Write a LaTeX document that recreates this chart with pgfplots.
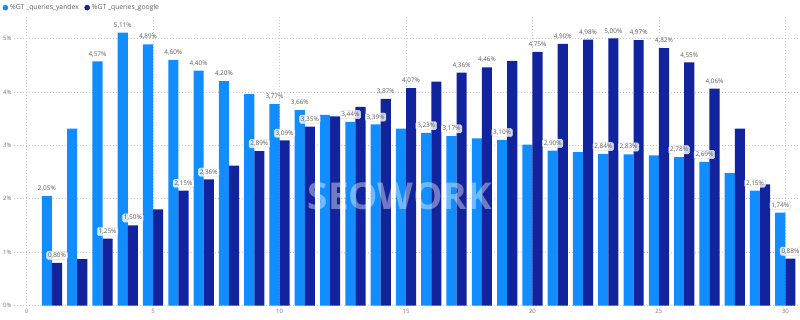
\documentclass[border=0pt]{standalone}
\usepackage{pgfplots}
\pgfplotsset{compat=1.18}
\usepackage{pgfplotstable}
\usepackage{fontspec}
\setmainfont{Open Sans}
\definecolor{yb}{HTML}{118DFF}
\definecolor{gb}{HTML}{12239E}
\definecolor{txt}{HTML}{605E5C}
\definecolor{tick}{HTML}{777777}
\definecolor{grd}{HTML}{C8C8C8}

\pgfplotstableread{
d y g
1 2.05 0.80
2 3.31 0.87
3 4.57 1.25
4 5.11 1.50
5 4.89 1.80
6 4.60 2.15
7 4.40 2.36
8 4.20 2.62
9 3.96 2.89
10 3.77 3.09
11 3.66 3.35
12 3.57 3.54
13 3.44 3.72
14 3.39 3.87
15 3.31 4.07
16 3.23 4.19
17 3.17 4.36
18 3.13 4.46
19 3.10 4.58
20 3.01 4.75
21 2.90 4.90
22 2.87 4.98
23 2.84 5.00
24 2.83 4.97
25 2.81 4.82
26 2.78 4.55
27 2.69 4.06
28 2.48 3.31
29 2.15 2.27
30 1.74 0.88
}\maindata

% yandex labels without box
\pgfplotstableread{
d v
1 2.05
3 4.57
4 5.11
5 4.89
6 4.60
7 4.40
8 4.20
10 3.77
11 3.66
}\ylabplain
% yandex labels with box
\pgfplotstableread{
d v
13 3.44
14 3.39
16 3.23
17 3.17
19 3.10
21 2.90
23 2.84
24 2.83
26 2.78
27 2.69
29 2.15
30 1.74
}\ylabbox
% google labels without box
\pgfplotstableread{
d v
14 3.87
15 4.07
17 4.36
18 4.46
20 4.75
21 4.90
22 4.98
23 5.00
24 4.97
25 4.82
26 4.55
27 4.06
}\glabplain
% google labels with box
\pgfplotstableread{
d v
1 0.80
3 1.25
4 1.50
6 2.15
7 2.36
9 2.89
10 3.09
11 3.35
30 0.88
}\glabbox

\pgfplotsset{
  lab/.style={forget plot, draw=none, mark=none, nodes near coords,
    point meta=y,
    nodes near coords={\pgfmathprintnumber[fixed,fixed zerofill,precision=2,use comma]{\pgfplotspointmeta}\%},
    every node near coord/.append style={font=\fontsize{6.4}{7}\selectfont, text=txt, anchor=south, inner sep=1.4pt, yshift=3pt}},
  labbox/.style={lab,
    every node near coord/.append style={fill=white, fill opacity=0.8, text opacity=1, draw=blue!8!black!12, draw opacity=1, line width=0.4pt, rounded corners=1.5pt}},
}

\begin{document}
\begin{tikzpicture}
\begin{axis}[
  scale only axis, width=784pt, height=288.4pt,
  xmin=-0.5, xmax=30.5, ymin=0, ymax=5.4,
  clip=false,
  axis line style={draw=none}, major tick length=0pt,
  xtick={0,5,...,30}, ytick={0,1,2,3,4,5},
  yticklabel={\pgfmathprintnumber{\tick}\%},
  /pgf/number format/assume math mode=true,
  xmajorgrids, ymajorgrids,
  grid style={grd, line width=0.6pt, dash pattern=on 0.7pt off 2.3pt},
  ticklabel style={font=\fontsize{6}{7}\selectfont, text=tick},
  xticklabel style={anchor=north, inner sep=0pt, yshift=-3.8pt},
  yticklabel style={anchor=east, inner sep=0pt, xshift=-2.3pt},
  legend columns=2,
  legend style={at={(rel axis cs:0,1)}, anchor=south west, xshift=-11.6pt, yshift=3.9pt,
    draw=none, fill=none, inner sep=0pt, font=\fontsize{6.8}{7.5}\selectfont, text=txt,
    /tikz/every even column/.append style={column sep=3.5pt}},
]
\coordinate (bl) at (rel axis cs:0,0);
\coordinate (tr) at (rel axis cs:1,1);

\addlegendimage{legend image code/.code={\fill[yb] (0pt,0pt) circle (2.6pt);}}
\addlegendentry{\%GT \_queries\_yandex}
\addlegendimage{legend image code/.code={\fill[gb] (0pt,0pt) circle (2.6pt);}}
\addlegendentry{\%GT \_queries\_google}

\addplot[forget plot, ybar, bar width=0.4, bar shift=-0.2, fill=yb, draw=none] table[x=d, y=y] {\maindata};
\addplot[forget plot, ybar, bar width=0.4, bar shift=0.2, fill=gb, draw=none] table[x=d, y=g] {\maindata};

\node[text=white, text opacity=0.4, font=\bfseries\fontsize{37}{37}\selectfont] at (axis cs:14.75,2.05) {SEOWORK};

\addplot[lab] table[x expr=\thisrow{d}-0.2, y=v] {\ylabplain};
\addplot[labbox] table[x expr=\thisrow{d}-0.2, y=v] {\ylabbox};
\addplot[lab] table[x expr=\thisrow{d}+0.2, y=v] {\glabplain};
\addplot[labbox] table[x expr=\thisrow{d}+0.2, y=v] {\glabbox};
\end{axis}
\pgfresetboundingbox
\path[use as bounding box] ([shift={(-14pt,-13.5pt)}]bl) rectangle ([shift={(2pt,17.1pt)}]tr);
\end{tikzpicture}
\end{document}
